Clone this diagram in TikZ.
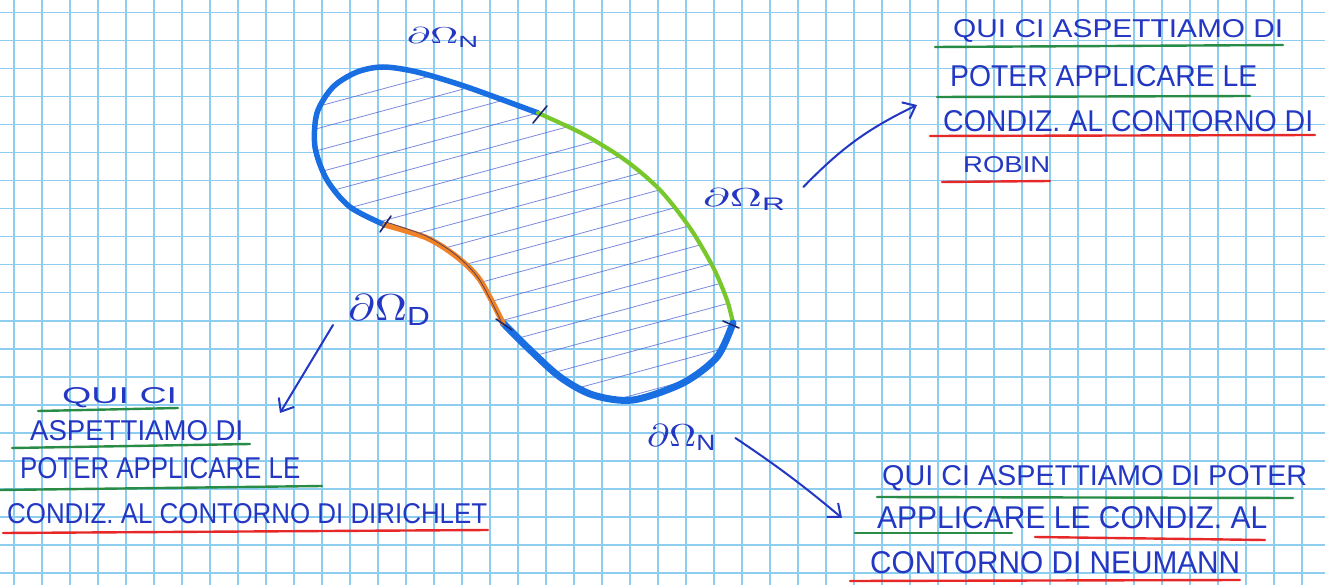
\documentclass[tikz,border=0pt]{standalone}
\usepackage{fontspec}
\setmainfont{Liberation Sans}
\usepackage{graphicx}
\usetikzlibrary{arrows.meta}
\definecolor{gridc}{RGB}{140,205,240}
\definecolor{ink}{RGB}{35,55,195}
\definecolor{bnd}{RGB}{25,110,225}
\definecolor{grn}{RGB}{120,200,45}
\definecolor{org}{RGB}{240,130,40}
\definecolor{ulg}{RGB}{40,140,70}
\definecolor{ulr}{RGB}{230,40,40}
\definecolor{hatchc}{RGB}{80,100,210}
\definecolor{tickc}{RGB}{30,40,110}
\newcommand\fitt[3]{\resizebox{#1pt}{#2pt}{#3}}
\begin{document}
\begin{tikzpicture}[x=1pt,y=-1pt,
  gridline/.style={gridc, line width=1.6pt},
  txt/.style={inner sep=0pt, anchor=base west, text=ink},
  lab/.style={inner sep=0pt, anchor=base west, text=ink},
  ulgreen/.style={ulg, line width=2.4pt, line cap=round},
  ulred/.style={ulr, line width=2.4pt, line cap=round},
  arr/.style={ink, line width=2pt, line cap=round, -{Straight Barb[length=11pt,width=18pt,line width=2pt]}},
  bndN/.style={bnd, line width=5.5pt, line cap=round},
  bndR/.style={grn, line width=4.2pt, line cap=round},
  bndD/.style={org, line width=5.5pt, line cap=round},
  hatch/.style={hatchc, line width=0.8pt, opacity=0.75},
  tick/.style={tickc, line width=1.6pt, line cap=round}]
\useasboundingbox (0,0) rectangle (1325,585);
\fill[white] (0,0) rectangle (1325,585);
% squared paper
\foreach \i in {0,...,46} \draw[gridline] ({14+28*\i},0) -- ({14+28*\i},585);
\foreach \j in {0,...,20} \draw[gridline] (0,{12.7+28*\j}) -- (1325,{12.7+28*\j});
% junction points
\coordinate (J1) at (538,113);
\coordinate (J2) at (733,323);
\coordinate (J3) at (503,323);
\coordinate (J4) at (385,225);
% hatching of the domain
\begin{scope}
\clip plot[smooth cycle] coordinates {(385,225) (350,207) (327,180) (315,147) (317,113) (333,87) (357,72) (383,67) (417,72) (467,87) (538,113) (583,134) (625,160) (660,190) (690,228) (713,267) (727,300) (733,323) (717,357) (683,383) (633,400) (593,395) (560,377) (527,347) (503,323) (480,280) (457,257) (427,238)};
\foreach \k in {0,...,21} \draw[hatch] (290,{70+22*\k}) -- ++(480,-130);
\end{scope}
% boundary pieces
\draw[bndN] plot[smooth] coordinates {(385,225) (350,207) (327,180) (315,147) (317,113) (333,87) (357,72) (383,67) (417,72) (467,87) (538,113)};
\draw[bndR] plot[smooth] coordinates {(538,113) (583,134) (625,160) (660,190) (690,228) (713,267) (727,300) (733,323)};
\draw[bndN, line width=7pt] plot[smooth] coordinates {(733,323) (717,357) (683,383) (633,400) (593,395) (560,377) (527,347) (503,323)};
\draw[bndD] plot[smooth] coordinates {(503,323) (480,280) (457,257) (427,238) (385,225)};
\draw[tickc!70!org, line width=0.8pt] plot[smooth] coordinates {(501,321) (479,279) (456,255) (426,236) (386,222)};
% ticks at the junctions
\draw[tick] (533,123) -- (547,106);
\draw[tick] (723,321) -- (739,328);
\draw[tick] (496,319) -- (512,330);
\draw[tick] (380,232) -- (391,216);
% boundary labels
\node[lab] (lN1) at (407,44) {\fitt{73}{16}{$\partial\Omega_{\mathrm N}$}};
\node[lab] (lR) at (703,207) {\fitt{84}{18}{$\partial\Omega_{\mathrm R}$}};
\node[lab] (lD) at (348,320) {\fitt{84}{26}{$\partial\Omega_{\mathrm D}$}};
\node[lab] (lN2) at (647,446) {\fitt{70}{22}{$\partial\Omega_{\mathrm N}$}};
% arrow end points
\coordinate (aR) at (917,105);
\coordinate (aD) at (280,413);
\coordinate (aN) at (842,518);
\draw[arr] ([shift={(16,-20)}]lR.base east) to[bend left=10] (aR);
\draw[arr] ([shift={(-15,5)}]lD.base west) -- (aD);
\draw[arr] ([shift={(18,-8)}]lN2.base east) to[bend left=3] (aN);
% top right note (Robin)
\node[txt] (r1) at (953,38) {\fitt{330}{18}{QUI CI ASPETTIAMO DI}};
\node[txt] (r2) at (950,87) {\fitt{307}{21}{POTER APPLICARE LE}};
\node[txt] (r3) at (943,132) {\fitt{370}{21}{CONDIZ. AL CONTORNO DI}};
\node[txt] (r4) at (963,173) {\fitt{87}{16}{ROBIN}};
\draw[ulgreen] (935,47) -- (1283,45);
\draw[ulgreen] (937,97) -- (1250,96);
\draw[ulred] (930,136) -- (1315,135);
\draw[ulred] (942,182) -- (1050,181);
% bottom left note (Dirichlet)
\node[txt] (d1) at (62,403) {\fitt{115}{16}{QUI CI}};
\node[txt] (d2) at (30,440) {\fitt{213}{20}{ASPETTIAMO DI}};
\node[txt] (d3) at (20,478) {\fitt{280}{21}{POTER APPLICARE LE}};
\node[txt] (d4) at (7,523) {\fitt{480}{20}{CONDIZ. AL CONTORNO DI DIRICHLET}};
\draw[ulgreen] (38,411) -- (178,408);
\draw[ulgreen] (12,448) -- (250,444);
\draw[ulgreen] (0,490) -- (322,486);
\draw[ulred] (3,533) -- (488,530);
% bottom right note (Neumann)
\node[txt] (n1) at (882,485) {\fitt{425}{20}{QUI CI ASPETTIAMO DI POTER}};
\node[txt] (n2) at (877,528) {\fitt{390}{22}{APPLICARE LE CONDIZ. AL}};
\node[txt] (n3) at (870,573) {\fitt{370}{22}{CONTORNO DI NEUMANN}};
\draw[ulgreen] (877,497) -- (1293,498);
\draw[ulgreen] (855,533) -- (1012,533);
\draw[ulred] (1035,537) -- (1265,540);
\draw[ulred] (850,581) -- (1240,580);
\end{tikzpicture}
\end{document}
